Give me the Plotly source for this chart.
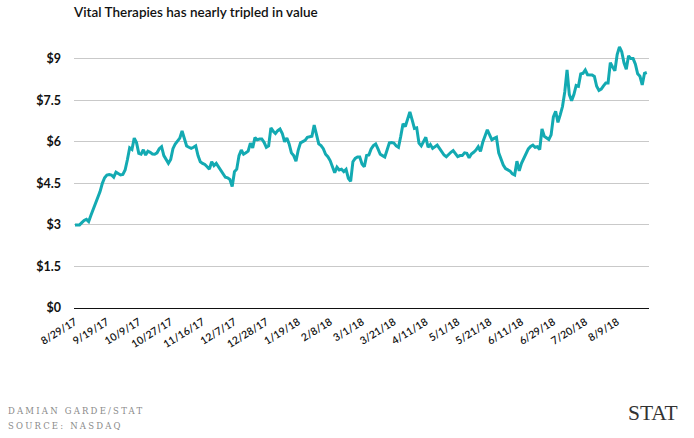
import plotly.graph_objects as go

# ---- data (closing price, one value per trading day, from 8/29/17) ----
prices = [
    3.0, 3.0, 3.0, 3.08, 3.16, 3.2, 3.12, 3.35, 3.56, 3.77,
    3.98, 4.2, 4.5, 4.7, 4.8, 4.82, 4.8, 4.72, 4.9, 4.85, 4.8,
    4.82, 4.98, 5.35, 5.78, 5.72, 6.13, 5.97, 5.58, 5.55, 5.71,
    5.52, 5.66, 5.62, 5.56, 5.55, 5.6, 5.75, 5.82, 5.5, 5.38,
    5.22, 5.36, 5.75, 5.92, 6.02, 6.13, 6.39, 6.1, 5.85, 5.8,
    5.76, 5.8, 5.85, 5.5, 5.28, 5.22, 5.18, 5.1, 5.01, 5.28,
    5.14, 5.22, 5.1, 4.95, 4.85, 4.72, 4.7, 4.64, 4.38, 4.92,
    5.01, 5.5, 5.7, 5.55, 5.6, 5.66, 5.95, 5.78, 6.15, 6.07, 6.1,
    6.1, 5.98, 5.8, 5.85, 6.5, 6.38, 6.3, 6.4, 6.46, 6.3,
    6.0, 6.13, 5.92, 5.6, 5.5, 5.3, 5.7, 5.96, 6.0,
    6.05, 6.16, 6.18, 6.2, 6.6, 6.3, 5.92, 5.86, 5.75, 5.55, 5.46,
    5.32, 5.07, 4.88, 5.08, 4.98, 5.01, 4.92, 5.0, 4.68, 4.57,
    5.28, 5.4, 5.45, 5.45, 5.2, 5.1, 5.5, 5.52, 5.74, 5.86,
    5.92, 5.74, 5.55, 5.5, 5.45, 5.7, 5.96, 5.97, 5.95, 5.85, 5.8,
    6.2, 6.65, 6.55, 6.8, 7.08, 6.79, 6.48, 6.5, 5.95,
    5.85, 6.0, 6.16, 5.8, 5.9, 5.76, 5.83, 5.88, 5.76, 5.62,
    5.52, 5.46, 5.55, 5.62, 5.68, 5.55, 5.46, 5.5, 5.5, 5.6, 5.58,
    5.42, 5.56, 5.62, 5.7, 5.82, 5.65, 5.98, 6.2, 6.43, 6.25,
    6.07, 6.12, 6.16, 5.6, 5.38, 5.16, 5.03, 4.99, 4.94, 4.84, 4.8,
    5.3, 4.95, 5.22, 5.4, 5.58, 5.74, 5.83, 5.88, 5.8,
    5.82, 5.72, 6.46, 6.2, 6.13, 6.08, 6.25, 6.9, 7.1, 6.7,
    6.97, 7.27, 7.8, 8.59, 7.7, 7.48, 7.7, 8.03, 8.0, 8.45,
    8.47, 8.59, 8.42, 8.42, 8.41, 8.36, 8.0, 7.85, 7.9, 8.02, 8.12,
    8.12, 8.85, 8.7, 8.56, 9.15, 9.42, 9.25, 8.85, 8.62, 9.1,
    9.0, 9.0, 8.8, 8.45, 8.36, 8.05, 8.47, 8.5,
]
date_labels = ["8/29/17", "9/19/17", "10/9/17", "10/27/17", "11/16/17", "12/7/17",
               "12/28/17", "1/19/18", "2/8/18", "3/1/18", "3/21/18", "4/11/18",
               "5/1/18", "5/21/18", "6/11/18", "6/29/18", "7/20/18", "8/9/18"]
label_step = 14  # trading days between labelled dates
y_ticks = [0, 1.5, 3, 4.5, 6, 7.5, 9]
y_labels = ["$0", "$1.5", "$3", "$4.5", "$6", "$7.5", "$9"]

title = "Vital Therapies has nearly tripled in value"
credit1 = "DAMIAN GARDE/STAT"
credit2 = "SOURCE: NASDAQ"
brand = "STAT"

# ---- layout geometry ----
W, H = 694, 438
L, R = 74, 649.5
T, B = 42, 308.3
y_max = 9.6
px_per_day = 2.28
n = len(prices)
x_vals = list(range(n))


def px_x(px):
    return (px - L) / (R - L)


def px_y(py):
    return (B - py) / (B - T)


spaced = '<span style="letter-spacing:2.2px">{}</span>'

fig = go.Figure()
fig.add_trace(go.Scatter(
    x=x_vals, y=prices, mode="lines",
    line=dict(color="#13aab2", width=3),
    hoverinfo="skip",
))

fig.update_layout(
    width=W, height=H,
    margin=dict(l=L, r=W - R, t=T, b=H - B, pad=0),
    paper_bgcolor="white", plot_bgcolor="white",
    showlegend=False,
    font=dict(family="Lato", color="#111"),
    title=dict(
        text=title, x=L / W, xanchor="left", xref="container",
        y=1 - 12 / H, yanchor="middle", yref="container",
        font=dict(family="Lato", size=13.5, color="#111", weight=600),
    ),
    xaxis=dict(
        range=[(L - 75) / px_per_day, (R - 75) / px_per_day],
        tickvals=[i * label_step for i in range(len(date_labels))],
        ticktext=date_labels,
        tickangle=-32,
        ticks="", showgrid=False, zeroline=False, showline=False,
        tickfont=dict(family="Lato", size=10.5, color="#111", weight=600),
        ticklabelstandoff=5,
    ),
    yaxis=dict(
        range=[0, y_max],
        tickvals=y_ticks, ticktext=y_labels,
        showgrid=True, gridcolor="#c9c9c9", gridwidth=1,
        zeroline=True, zerolinecolor="#111", zerolinewidth=1.2,
        showline=False, ticks="",
        tickfont=dict(family="Lato", size=12.5, color="#111", weight=700),
        ticklabelstandoff=12,
    ),
    annotations=[
        dict(text=spaced.format(credit1), x=px_x(6), y=px_y(411), xref="paper", yref="paper",
             xanchor="left", yanchor="middle", showarrow=False,
             font=dict(family="DejaVu Serif", size=8.5, color="#8a8a8a")),
        dict(text=spaced.format(credit2), x=px_x(6), y=px_y(426), xref="paper", yref="paper",
             xanchor="left", yanchor="middle", showarrow=False,
             font=dict(family="DejaVu Serif", size=8.5, color="#8a8a8a")),
        dict(text=brand, x=px_x(681), y=px_y(413), xref="paper", yref="paper",
             xanchor="right", yanchor="middle", showarrow=False,
             font=dict(family="Liberation Serif", size=21.5, color="#333")),
    ],
)

fig.write_html(
    "out.html",
    config={"displayModeBar": False},
    post_script="document.body.style.margin='0';document.body.style.overflow='hidden';",
)
